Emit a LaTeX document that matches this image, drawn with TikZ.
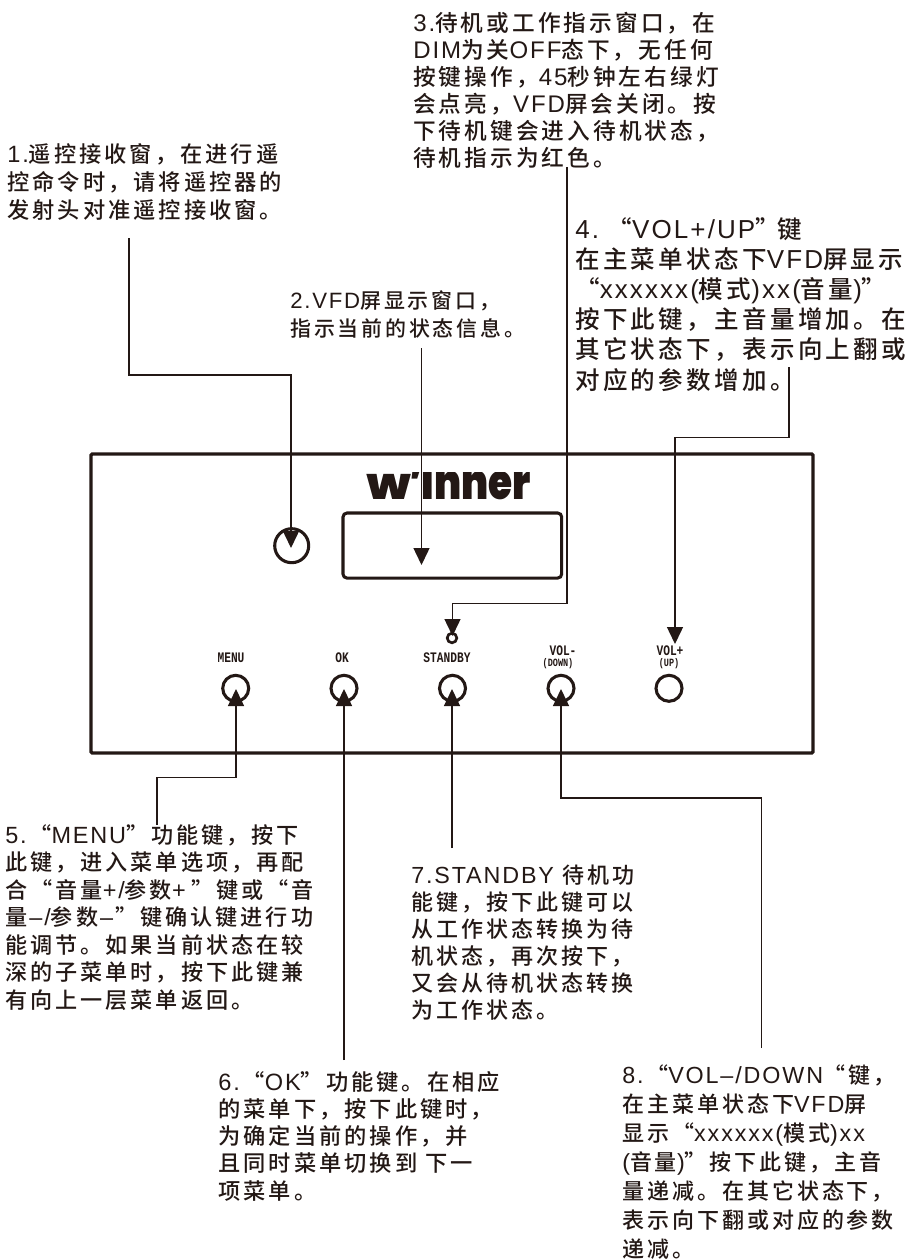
\documentclass[tikz,border=0pt]{standalone}
\usepackage{fontspec}
\usetikzlibrary{arrows.meta}
\setmainfont[LetterSpace=8,Scale=1.06]{Liberation Sans}
\newfontfamily\zhf[LetterSpace=13.5]{Noto Sans CJK SC Medium}
\newfontfamily\labf{Liberation Mono}
\newfontfamily\logof{Poppins Black}
\newcommand\z[1]{{\zhf #1}}
\newcommand\fs[2]{\fontsize{#1pt}{#2pt}\selectfont}
\newcommand\tl[1]{\scalebox{1}[1.3]{#1}}
\lineskiplimit=-100pt
\definecolor{ink}{HTML}{231815}
\tikzset{
  para/.style={align=left,inner sep=0pt,anchor=base west,text=ink},
  lab/.style={inner sep=0pt,text=ink,font=\labf\bfseries\fontsize{8.4pt}{9pt}\selectfont},
  labs/.style={inner sep=0pt,text=ink,font=\labf\bfseries\fontsize{6.4pt}{7pt}\selectfont},
  ring/.style={circle,draw=ink,line width=2.3pt,inner sep=0pt},
  conn/.style={draw=ink,line width=1.1pt},
  arr/.style={conn,-{Triangle[width=12pt,length=12.75pt]}},
}
\begin{document}
\begin{tikzpicture}[x=0.75pt,y=-0.75pt]
\useasboundingbox (0,0) rectangle (911,1259);
% panel
\node[draw=ink,line width=2.5pt,rounded corners=1pt,inner sep=0pt,outer sep=0pt,minimum width=541.5pt,minimum height=224.25pt,anchor=north west] (panel) at (91,454) {};
\node[ring,minimum size=25.5pt] (ir) at (291.7,545.7) {};
\node[draw=ink,line width=2.3pt,rounded corners=3pt,inner sep=0pt,outer sep=0pt,minimum width=164pt,minimum height=48.8pt,anchor=north west] (disp) at (343,513) {};
\node[ring,minimum size=7.2pt,line width=2pt] (led) at (452,638) {};
\node[ring,minimum size=19.5pt] (menu) at (235.7,688.3) {};
\node[ring,minimum size=19.5pt] (ok) at (344,688.3) {};
\node[ring,minimum size=19.5pt] (stby) at (452.5,688.3) {};
\node[ring,minimum size=19.5pt] (vdn) at (561,688.3) {};
\node[ring,minimum size=19.5pt] (vup) at (669,688.3) {};
% logo
\begin{scope}
\clip (360,472) rectangle (540,499.5);
\node[inner sep=0pt,anchor=base west,text=ink] (logo) at (365,499) {\logof\fontsize{37pt}{40pt}\selectfont\scalebox{0.79}[1]{\scalebox{1.1}[0.72]{W}\hspace{-3pt}’\hspace{-2pt}inner}};
\end{scope}
% button labels
\node[lab] (lmenu) at (231,658) {\tl{MENU}};
\node[lab] (lok) at (342,658) {\tl{OK}};
\node[lab] (lstby) at (447,658) {\tl{STANDBY}};
\node[lab] (lvdn) at (563,651) {\tl{VOL-}};
\node[labs] (ldown) at (558,664) {\tl{(DOWN)}};
\node[lab] (lvup) at (670,651) {\tl{VOL+}};
\node[labs] (lup) at (669,664) {\tl{(UP)}};
% texts
\node[para,font=\fs{16.7}{20.8}] (p1) at (7,218) {1.\z{遥控接收窗，在进行遥}\\\z{控命令时，请将遥控器的}\\\z{发射头对准遥控接收窗。}};
\node[para,font=\fs{15.7}{21}] (p2) at (290,336) {2.VFD\z{屏显示窗口，}\\\z{指示当前的状态信息。}};
\node[para,font=\fs{17}{20.25}] (p3) at (413,166.5) {3.\z{待机或工作指示窗口，在}\\DIM\z{为关}OFF\z{态下，无任何}\\\z{按键操作，}45\z{秒钟左右绿灯}\\\z{会点亮，}VFD\z{屏会关闭。按}\\\z{下待机键会进入待机状态，}\\\z{待机指示为红色。}};
\node[para,font=\fs{18.4}{22.6}] (p4) at (575,389) {4.\hspace{6.5pt}\z{“}VOL+/UP\z{”}\hspace{-1.5pt}\z{键}\\\z{在主菜单状态下}VFD\z{屏显示}\\\z{“}xxxxxx(\z{模式})xx(\z{音量})\z{”}\\\z{按下此键，主音量增加。在}\\\z{其它状态下，表示向上翻或}\\\z{对应的参数增加。}};
\node[para,font=\fs{16.6}{20.6}] (p5) at (5,1008) {5.\hspace{2pt}\z{“}MENU\z{”功能键，按下}\\\z{此键，进入菜单选项，再配}\\\z{合“音量}+/\z{参数}+\hspace{4pt}\z{”键或“音}\\\z{量}\hspace{1.5pt}–\hspace{1.5pt}/\z{参数}\hspace{1.5pt}–\hspace{1.5pt}\z{”键确认键进行功}\\\z{能调节。如果当前状态在较}\\\z{深的子菜单时，按下此键兼}\\\z{有向上一层菜单返回。}};
\node[para,font=\fs{16.7}{20.3}] (p6) at (218,1199) {6.\hspace{2pt}\z{“}OK\z{”功能键。在相应}\\\z{的菜单下，按下此键时，}\\\z{为确定当前的操作，并}\\\z{且同时菜单切换到 下一}\\\z{项菜单。}};
\node[para,font=\fs{16.5}{20.25}] (p7) at (411,1018) {7.STANDBY \z{待机功}\\\z{能键，按下此键可以}\\\z{从工作状态转换为待}\\\z{机状态，再次按下，}\\\z{又会从待机状态转换}\\\z{为工作状态。}};
\node[para,font=\fs{16.5}{21.7}] (p8) at (622,1257) {8.\hspace{2pt}\z{“}VOL–/DOWN\z{“键，}\\\z{在主菜单状态下}VFD\z{屏}\\\z{显示“}xxxxxx(\z{模式})xx\\(\z{音量})\z{”按下此键，主音}\\\z{量递减。在其它状态下，}\\\z{表示向下翻或对应的参数}\\\z{递减。}};
% connector ends and bends
\coordinate (s1) at (129,238); \coordinate (b1) at (129,375); \coordinate (t1) at (291,548);
\coordinate (s2) at (421.5,348); \coordinate (t2) at (421.5,565);
\coordinate (s3) at (567,167); \coordinate (b3) at (567,603.5); \coordinate (t3) at (452.5,636);
\coordinate (s4) at (789,367); \coordinate (b4) at (789,437.5); \coordinate (t4) at (675,644);
\coordinate (s5) at (157,825); \coordinate (b5) at (157,777.5); \coordinate (t5) at (236,689);
\coordinate (s6) at (344,1060); \coordinate (t6) at (344,689);
\coordinate (s7) at (452,848); \coordinate (t7) at (452,689);
\coordinate (s8) at (761.5,1048); \coordinate (b8) at (761.5,798); \coordinate (t8) at (561,689);
\draw[arr] (s1) -- (b1) -| (t1);
\draw[arr] (s2) -- (t2);
\draw[arr] (s3) -- (b3) -| (t3);
\draw[arr] (s4) -- (b4) -| (t4);
\draw[arr] (s5) -- (b5) -| (t5);
\draw[arr] (s6) -- (t6);
\draw[arr] (s7) -- (t7);
\draw[arr] (s8) -- (b8) -| (t8);
\end{tikzpicture}
\end{document}
